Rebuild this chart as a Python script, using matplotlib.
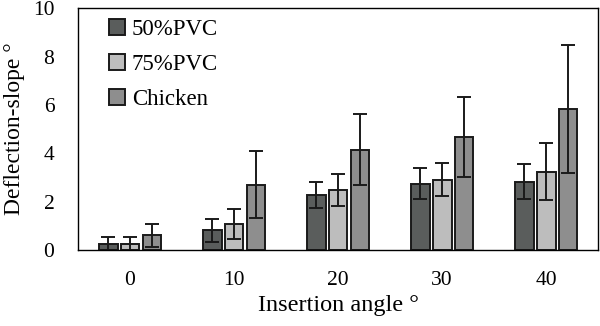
import matplotlib
matplotlib.use("Agg")
import matplotlib.pyplot as plt
import numpy as np

# data
angles = ["0", "10", "20", "30", "40"]
pvc50 = [0.27, 0.81, 2.27, 2.75, 2.82]
pvc50_err = [0.25, 0.48, 0.55, 0.63, 0.72]
pvc75 = [0.25, 1.09, 2.48, 2.91, 3.24]
pvc75_err = [0.27, 0.62, 0.65, 0.68, 1.18]
chicken = [0.61, 2.70, 4.14, 4.66, 5.83]
chicken_err = [0.48, 1.38, 1.47, 1.65, 2.66]


def main():
    plt.rcParams["font.family"] = ["Liberation Serif", "DejaVu Serif"]
    fig = plt.figure(figsize=(6.0, 3.26), dpi=100)
    ax = fig.add_axes([0.13, 0.233, 0.867, 0.742])

    x = np.arange(len(angles))
    w = 0.18
    step = 0.21
    series = [
        (pvc50, pvc50_err, "#5a5d5c", "50%PVC"),
        (pvc75, pvc75_err, "#bdbdbd", "75%PVC"),
        (chicken, chicken_err, "#8e8e8e", "Chicken"),
    ]
    for i, (vals, errs, col, lab) in enumerate(series):
        ax.bar(x + (i - 1) * step, vals, w, yerr=errs, color=col,
               edgecolor="#1a1a1a", linewidth=1.4, label=lab,
               error_kw=dict(ecolor="#1a1a1a", elinewidth=1.4, capsize=5, capthick=1.4))

    ax.set_xlim(-0.5, len(angles) - 0.5)
    ax.set_ylim(0, 10)
    ax.set_yticks([0, 2, 4, 6, 8, 10])
    ax.set_xticks(x)
    ax.set_xticklabels(angles)
    ax.tick_params(axis="both", length=0, labelsize=15.5)
    ax.tick_params(axis="x", pad=15)
    ax.tick_params(axis="y", pad=17)
    for sp in ax.spines.values():
        sp.set_linewidth(1.0)

    ax.set_xlabel("Insertion angle °", fontsize=17.5, labelpad=4)
    ax.set_ylabel("Deflection-slope °", fontsize=17, labelpad=6)

    ax.legend(loc="upper left", frameon=False, fontsize=16.5, handlelength=0.7,
              handleheight=0.7, handletextpad=0.3, labelspacing=0.6,
              bbox_to_anchor=(0.02, 1.04))

    plt.savefig("out.png", dpi=100)


if __name__ == "__main__":
    main()
